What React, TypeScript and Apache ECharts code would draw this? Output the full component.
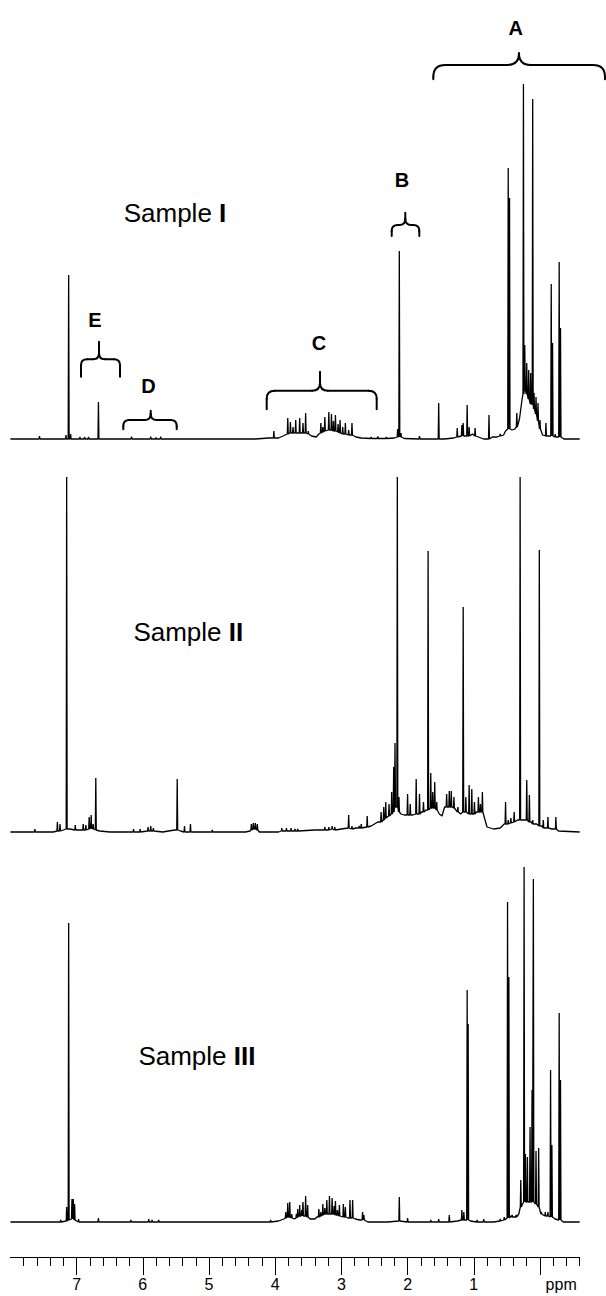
import React, { useEffect, useRef } from "react";
import * as echarts from "echarts";

// ---------- axis ----------
const X_MIN = -0.6;
const X_MAX = 8.0;
const MINOR_TICKS = [7.8, 7.6, 7.4, 7.2, 6.8, 6.6, 6.4, 6.2, 5.8, 5.6, 5.4, 5.2, 4.8, 4.6, 4.4, 4.2, 3.8, 3.6, 3.4, 3.2, 2.8, 2.6, 2.4, 2.2, 1.8, 1.6, 1.4, 1.2, 0.8, 0.6, 0.4, 0.2, -0.2, -0.4, -0.6];
const MAJOR_TICKS = [7, 6, 5, 4, 3, 2, 1, 0];
const TICK_LABELS = [7, 6, 5, 4, 3, 2, 1];
const UNIT_LABEL = "ppm";
const UNIT_LABEL_AT = -0.32;

// ---------- spectra ----------
// [ppm, intensity] = baseline / broad point ; [ppm, peakHeight, localBase] = sharp line
const SAMPLE_NAMES = ["I", "II", "III"];

const SAMPLE_I: number[][] = [
  [8.0, 0], [7.56, 3, 0], [7.2, 0], [7.16, 4, 0], [7.12, 164, 0], [7.09, 5, 0], [7.04, 0],
  [6.95, 2, 0], [6.88, 2, 0], [6.82, 2, 0], [6.67, 37, 0], [6.6, 0],
  [6.17, 2.5, 0], [5.88, 2.5, 0], [5.8, 1.5, 0], [5.73, 2.5, 0], [5.6, 0],
  [4.3, 0], [4.1, 1], [4.02, 8, 1], [3.95, 1], [3.88, 3],
  [3.81, 21, 5], [3.77, 17, 6], [3.73, 12, 6], [3.69, 19, 6], [3.63, 21, 6], [3.58, 16, 6], [3.54, 26, 6], [3.5, 8, 5],
  [3.45, 3], [3.38, 2], [3.34, 5],
  [3.31, 16, 6], [3.28, 12, 7], [3.25, 22, 8], [3.19, 27, 9], [3.15, 25, 9], [3.12, 18, 8], [3.09, 24, 8],
  [3.05, 15, 7], [3.02, 19, 6], [2.98, 12, 5], [2.94, 16, 5], [2.89, 9, 4], [2.84, 16, 4], [2.78, 2],
  [2.7, 1], [2.55, 2, 0.5], [2.45, 2.5, 0.5], [2.32, 2, 0.5], [2.2, 1],
  [2.15, 10, 2], [2.125, 188, 3], [2.1, 6, 2], [2.05, 0.5],
  [1.82, 3, 0], [1.6, 0], [1.53, 36, 0], [1.45, 0], [1.3, 1],
  [1.25, 11, 2], [1.18, 14, 3], [1.16, 16, 3], [1.1, 34, 3], [1.07, 12, 3], [1.02, 5], [0.98, 11, 3], [0.93, 2],
  [0.85, 0], [0.77, 24, 0], [0.72, 2], [0.65, 2], [0.6, 5, 3], [0.55, 4], [0.52, 8],
  [0.48, 271, 10], [0.46, 241, 10], [0.42, 9], [0.38, 10], [0.35, 26, 12], [0.31, 20], [0.27, 40],
  [0.25, 355, 45], [0.23, 94, 50], [0.2, 76, 45], [0.17, 69, 40], [0.14, 66, 35],
  [0.11, 340, 35], [0.09, 46, 30], [0.06, 42, 25], [0.03, 36, 18], [0.0, 19, 10], [-0.04, 4],
  [-0.09, 16, 3], [-0.13, 3], [-0.17, 155, 3], [-0.19, 96, 3], [-0.23, 5, 2],
  [-0.29, 177, 2], [-0.31, 111, 2], [-0.36, 0], [-0.6, 0],
];

const SAMPLE_II: number[][] = [
  [8.0, 0], [7.63, 3, 0], [7.35, 0], [7.29, 10, 1], [7.25, 8, 1], [7.2, 2],
  [7.15, 355, 3], [7.1, 3], [7.02, 7, 2], [6.95, 2], [6.9, 8, 2], [6.86, 7, 2],
  [6.81, 15, 3], [6.78, 17, 4], [6.75, 8, 3], [6.71, 54, 2], [6.65, 1], [6.5, 0],
  [6.14, 3, 0], [6.04, 3, 0], [5.92, 5, 1], [5.88, 6, 1], [5.84, 4, 1], [5.7, 0],
  [5.52, 2], [5.48, 53, 2], [5.43, 1], [5.37, 6, 0], [5.28, 8, 0], [5.2, 0], [4.95, 2, 0], [4.45, 0],
  [4.38, 1], [4.36, 8, 2], [4.33, 9, 3], [4.3, 9, 3], [4.27, 8, 2], [4.24, 0],
  [3.95, 0], [3.9, 4, 1], [3.83, 4, 1], [3.76, 4, 1], [3.7, 3, 1], [3.66, 3, 1], [3.4, 2],
  [3.25, 5, 2], [3.19, 5, 2], [3.14, 6, 3], [3.1, 5, 2], [3.0, 3],
  [2.89, 17, 4], [2.84, 6, 3], [2.78, 4], [2.73, 6, 4], [2.7, 8, 4], [2.61, 16, 5], [2.55, 6], [2.45, 10],
  [2.4, 20, 10], [2.36, 25, 12], [2.33, 30, 14], [2.28, 28, 16], [2.24, 40, 18], [2.21, 65, 20], [2.19, 89, 25],
  [2.155, 355, 25], [2.13, 35, 20], [2.1, 18], [2.05, 17], [2.0, 38, 17], [1.96, 28, 17], [1.92, 17],
  [1.87, 53, 18], [1.82, 38, 18], [1.79, 20], [1.76, 30, 20], [1.72, 22],
  [1.69, 281, 22], [1.65, 59, 24], [1.62, 40, 24], [1.59, 50, 24], [1.56, 30, 22], [1.52, 18], [1.48, 16],
  [1.44, 25], [1.41, 38, 25], [1.37, 41, 25], [1.34, 41, 25], [1.3, 35, 24], [1.27, 22], [1.24, 25, 20], [1.2, 18],
  [1.16, 225, 20], [1.12, 35, 20], [1.07, 47, 18], [1.03, 43, 18], [0.99, 30, 18], [0.96, 20],
  [0.93, 35, 20], [0.9, 28, 20], [0.87, 40, 20], [0.83, 12], [0.8, 5], [0.7, 3], [0.6, 4], [0.54, 8],
  [0.52, 30, 8], [0.48, 12, 8], [0.44, 14, 9], [0.39, 20, 10], [0.34, 12],
  [0.3, 355, 12], [0.25, 12], [0.2, 52, 12], [0.16, 37, 10], [0.13, 10], [0.11, 12, 8], [0.05, 8],
  [0.01, 282, 6], [-0.03, 6], [-0.05, 12, 4], [-0.12, 15, 4], [-0.18, 3], [-0.24, 15, 3], [-0.28, 1], [-0.6, 0],
];

const SAMPLE_III: number[][] = [
  [8.0, 0], [7.5, 0], [7.24, 2, 0], [7.15, 15, 1], [7.12, 299, 2], [7.07, 23, 3], [7.05, 23, 3], [7.03, 18, 2],
  [7.0, 1], [6.97, 3, 0], [6.8, 0], [6.67, 4, 0], [6.5, 0],
  [6.18, 2, 0], [5.91, 3, 0], [5.86, 2, 0], [5.76, 2, 0], [5.6, 0],
  [4.1, 0], [4.07, 2, 0], [3.95, 1], [3.87, 3],
  [3.84, 10, 4], [3.81, 19, 5], [3.78, 20, 5], [3.75, 8, 4], [3.71, 3],
  [3.68, 8, 4], [3.66, 13, 5], [3.63, 17, 6], [3.6, 12, 6], [3.58, 20, 6], [3.54, 26, 6], [3.51, 17, 5],
  [3.47, 3], [3.4, 3], [3.37, 5],
  [3.34, 13, 5], [3.31, 10, 6], [3.28, 18, 7], [3.25, 14, 8], [3.22, 22, 8], [3.18, 26, 8], [3.14, 24, 8],
  [3.11, 16, 8], [3.09, 21, 7], [3.06, 12, 7], [3.03, 17, 6], [2.97, 18, 5], [2.94, 15, 5], [2.9, 4],
  [2.87, 22, 4], [2.83, 22, 4], [2.79, 3], [2.72, 2], [2.68, 10, 2], [2.66, 7, 2], [2.6, 0],
  [2.3, 0], [2.125, 25, 1], [2.0, 4, 0], [1.8, 0], [1.65, 2, 0], [1.53, 3, 0], [1.37, 7, 0], [1.25, 1],
  [1.18, 12, 2], [1.15, 10, 2], [1.1, 232, 2], [1.085, 198, 2], [1.05, 1],
  [0.95, 2, 0], [0.85, 3, 0], [0.7, 0], [0.6, 3, 1], [0.54, 5, 2],
  [0.49, 320, 4], [0.47, 245, 4], [0.44, 6], [0.42, 7, 5], [0.36, 7, 5], [0.32, 8],
  [0.29, 42, 15], [0.24, 355, 20], [0.22, 68, 20], [0.19, 65, 20], [0.15, 95, 20], [0.12, 132, 20],
  [0.1, 343, 20], [0.06, 71, 18], [0.02, 74, 15], [-0.02, 10, 8], [-0.08, 10, 6], [-0.12, 10, 6],
  [-0.16, 152, 5], [-0.18, 77, 5], [-0.23, 3], [-0.29, 209, 2], [-0.31, 142, 2], [-0.35, 0], [-0.6, 0],
];

const SPECTRA = [SAMPLE_I, SAMPLE_II, SAMPLE_III];

// ---------- annotations (layout) ----------
const BRACES = [
  { label: "A", lx: 515.7, ly: 28, x1: 433.3, x2: 605, xm: 519, yTop: 53.3, yH: 65, yEnd: 79.3, r: 12 },
  { label: "B", lx: 402, ly: 180, x1: 391.7, x2: 419.3, xm: 405.3, yTop: 212.7, yH: 225, yEnd: 236, r: 6 },
  { label: "C", lx: 319, ly: 343, x1: 266.7, x2: 376.7, xm: 320, yTop: 371.7, yH: 390.7, yEnd: 409.3, r: 8 },
  { label: "D", lx: 148.5, ly: 386, x1: 123.3, x2: 176.7, xm: 150.7, yTop: 410.7, yH: 420, yEnd: 429.3, r: 6 },
  { label: "E", lx: 95, ly: 320, x1: 81, x2: 120, xm: 99, yTop: 341.7, yH: 359.3, yEnd: 376.7, r: 6 },
];
const SAMPLE_LABEL_POS = [
  { x: 123.7, y: 213 },
  { x: 133.4, y: 632 },
  { x: 138.4, y: 1056 },
];

const GRID_LEFT = 10.4;
const GRID_WIDTH = 569.3;
const BASELINES = [439, 832, 1222];
const Y_MAX = 355;
const Y_MIN = -10;
const AXIS_Y = 1257;
const FONT = '"Liberation Sans", Arial, Helvetica, sans-serif';
const SPIKE_HW = 0.007;

function buildTrace(entries: number[][]): number[][] {
  const out: number[][] = [];
  for (const e of entries) {
    if (e.length === 3) {
      out.push([e[0] + SPIKE_HW, e[2]], [e[0], e[1]], [e[0] - SPIKE_HW, e[2]]);
    } else {
      out.push([e[0], e[1]]);
    }
  }
  return out;
}

function braceGraphic(b: any) {
  const rc = Math.min(b.r, b.yH - b.yTop);
  const re = Math.min(b.r, b.yEnd - b.yH);
  const st = { stroke: "#000", lineWidth: 2, fill: null, lineCap: "round" };
  const half = (sx: number, dir: number) => [
    { type: "line", shape: { x1: sx, y1: b.yEnd, x2: sx, y2: b.yH + re }, style: st },
    { type: "bezierCurve", shape: { x1: sx, y1: b.yH + re, cpx1: sx, cpy1: b.yH, x2: sx + dir * re, y2: b.yH }, style: st },
    { type: "line", shape: { x1: sx + dir * re, y1: b.yH, x2: b.xm - dir * rc, y2: b.yH }, style: st },
    { type: "bezierCurve", shape: { x1: b.xm - dir * rc, y1: b.yH, cpx1: b.xm, cpy1: b.yH, x2: b.xm, y2: b.yH - rc }, style: st },
  ];
  return {
    type: "group",
    silent: true,
    children: [
      ...half(b.x1, 1),
      ...half(b.x2, -1),
      { type: "line", shape: { x1: b.xm, y1: b.yH - rc, x2: b.xm, y2: b.yTop }, style: st },
      {
        type: "text",
        style: {
          text: b.label, x: b.lx, y: b.ly, align: "center", verticalAlign: "middle",
          fontSize: 20, fontWeight: "bold", fontFamily: FONT, fill: "#000",
        },
      },
    ],
  };
}

export default function App() {
  const ref = useRef<HTMLDivElement>(null);
  useEffect(() => {
    if (!ref.current) return;
    const chart = echarts.init(ref.current, null, { renderer: "svg" });
    const grids: any[] = BASELINES.map((b) => ({
      left: GRID_LEFT, width: GRID_WIDTH, top: b - Y_MAX, height: Y_MAX - Y_MIN, containLabel: false,
    }));
    grids.push({ left: GRID_LEFT, width: GRID_WIDTH, top: AXIS_Y - 1, height: 1 });

    const xAxes: any[] = BASELINES.map((_, i) => ({
      type: "value", gridIndex: i, min: X_MIN, max: X_MAX, inverse: true, show: false,
    }));
    xAxes.push({
      type: "value", gridIndex: 3, min: X_MIN, max: X_MAX, inverse: true, position: "bottom",
      axisLine: { show: true, lineStyle: { color: "#000", width: 1 } },
      axisTick: { show: true, customValues: MINOR_TICKS, length: 9, lineStyle: { color: "#000", width: 1 } },
      axisLabel: { show: false },
      splitLine: { show: false },
    });
    xAxes.push({
      type: "value", gridIndex: 3, min: X_MIN, max: X_MAX, inverse: true, position: "bottom", offset: 0,
      axisLine: { show: false },
      axisTick: { show: true, customValues: MAJOR_TICKS, length: 18, lineStyle: { color: "#000", width: 1 } },
      axisLabel: {
        show: true,
        customValues: [...TICK_LABELS, UNIT_LABEL_AT],
        formatter: (v: number) => (v < 0 ? UNIT_LABEL : String(v)),
        color: "#000", fontSize: 16, fontFamily: FONT, margin: 19,
      },
      splitLine: { show: false },
    });

    const yAxes: any[] = BASELINES.map((_, i) => ({
      type: "value", gridIndex: i, min: Y_MIN, max: Y_MAX, show: false,
    }));
    yAxes.push({ type: "value", gridIndex: 3, min: 0, max: 1, show: false });

    const series = SPECTRA.map((s, i) => ({
      type: "line",
      name: "Sample " + SAMPLE_NAMES[i],
      xAxisIndex: i,
      yAxisIndex: i,
      data: buildTrace(s),
      showSymbol: false,
      symbol: "none",
      silent: true,
      clip: true,
      lineStyle: { color: "#000", width: 1.3 },
    }));

    const graphic: any[] = BRACES.map(braceGraphic);
    SAMPLE_LABEL_POS.forEach((p, i) => {
      graphic.push({
        type: "text",
        silent: true,
        style: {
          text: "{n|Sample }{b|" + SAMPLE_NAMES[i] + "}",
          x: p.x, y: p.y, verticalAlign: "middle", align: "left",
          fontSize: 26, fontFamily: FONT, fill: "#000",
          rich: {
            n: { fontSize: 26, fontFamily: FONT, fill: "#000" },
            b: { fontSize: 26, fontFamily: FONT, fontWeight: "bold", fill: "#000" },
          },
        },
      });
    });

    chart.setOption({
      animation: false,
      backgroundColor: "#fff",
      grid: grids,
      xAxis: xAxes,
      yAxis: yAxes,
      series,
      graphic,
    });
    return () => chart.dispose();
  }, []);
  return (
    <div
      ref={ref}
      style={{ position: "absolute", left: 0, top: 0, width: 606, height: 1296 }}
    />
  );
}
